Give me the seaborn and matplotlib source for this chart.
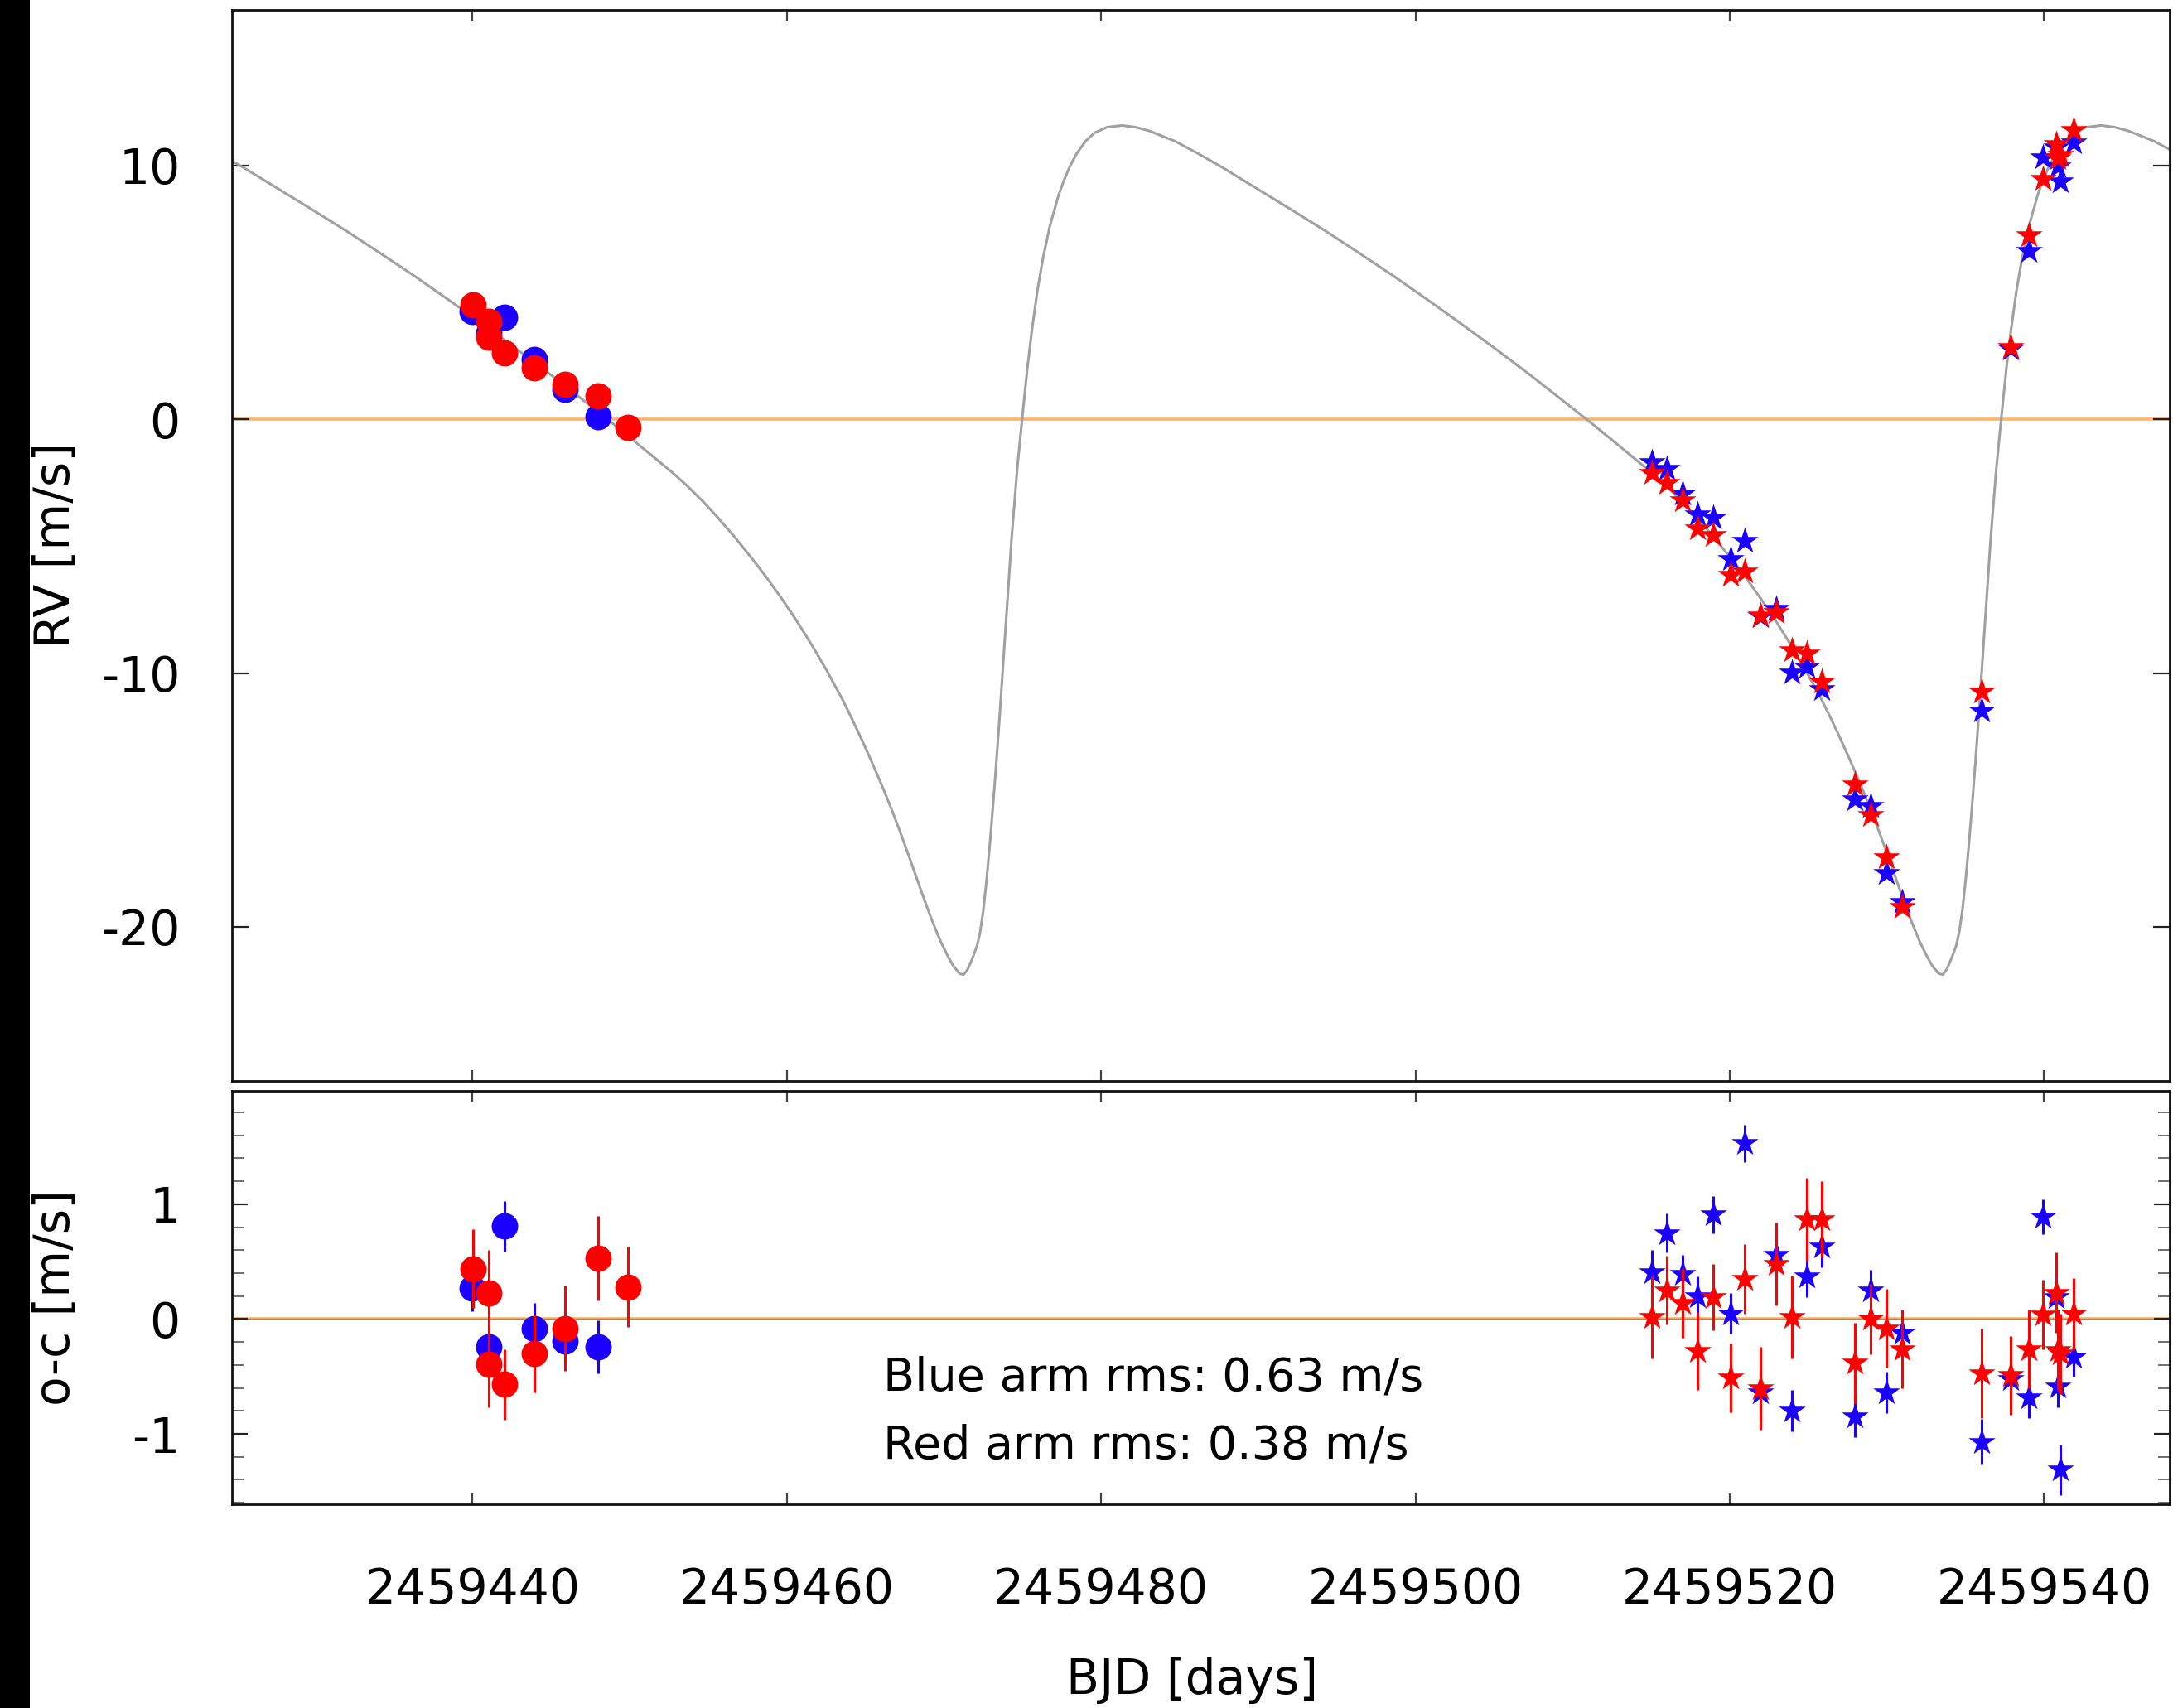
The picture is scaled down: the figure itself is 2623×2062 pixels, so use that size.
import matplotlib
matplotlib.use("Agg")
import matplotlib.pyplot as plt
from matplotlib.patches import Rectangle
from matplotlib.ticker import FixedLocator, MultipleLocator
import numpy as np
import pandas as pd
import seaborn as sns

plt.rcParams["font.family"] = ["DejaVu Sans"]
plt.rcParams["axes.unicode_minus"] = False

BJD0 = 2459400.0

# Fitted Keplerian model, sampled along the time axis (days after BJD0, m/s)
model_t = [23.9, 25.4, 27.56, 29.7, 31.93, 34.1, 36.3, 38.5, 40.67, 42.9,
           45.04, 47.0, 48.98, 50.5, 52.04, 52.75, 53.71, 54.69, 55.64, 56.66,
           57.77, 58.64, 59.63, 60.64, 61.67, 62.59, 63.56, 64.1, 64.7, 65.2,
           65.68, 66.18, 66.68, 67.17, 67.67, 68.17, 68.67, 69.0, 69.3, 69.8,
           70.28, 70.6, 70.99, 71.25, 71.5, 71.8, 72.1, 72.3, 72.5, 72.7,
           72.9, 73.1, 73.3, 73.5, 73.7, 74.0, 74.3, 74.65, 75.0, 75.3,
           75.59, 75.95, 76.3, 76.73, 77.3, 77.63, 78.0, 78.43, 79.0, 79.58,
           80.37, 81.34, 82.2, 83.04, 84.7, 86.2,
           87.7, 89.86, 92.0, 94.23, 96.4, 98.6, 100.8, 102.97, 105.2, 107.34,
           109.3, 111.28, 112.8, 114.34, 115.05, 116.01, 116.99, 117.94, 118.96,
           120.07, 120.94, 121.93, 122.94, 123.97, 124.89, 125.86, 126.4, 127.0,
           127.5, 127.98, 128.48, 128.98, 129.47, 129.97, 130.47, 130.97, 131.3,
           131.6, 132.1, 132.58, 132.9, 133.29, 133.55, 133.8, 134.1, 134.4,
           134.6, 134.8, 135.0, 135.2, 135.4, 135.6, 135.8, 136.0, 136.3, 136.6,
           136.95, 137.3, 137.6, 137.89, 138.25, 138.6, 139.03, 139.6, 139.93,
           140.3, 140.73, 141.3, 141.88, 142.67, 143.64, 144.5, 145.34, 147.0,
           148.5]
model_rv = [10.45, 9.92, 9.10, 8.29, 7.43, 6.55, 5.64, 4.69, 3.73, 2.72,
            1.72, 0.77, -0.20, -0.97, -1.76, -2.12, -2.66, -3.26, -3.90, -4.63,
            -5.48, -6.18, -7.03, -7.96, -8.98, -9.96, -11.07, -11.75, -12.54, -13.22,
            -13.90, -14.63, -15.40, -16.20, -17.05, -17.93, -18.80, -19.36, -19.85, -20.60,
            -21.20, -21.55, -21.84, -21.88, -21.68, -21.25, -20.75, -20.20, -19.35, -18.20,
            -16.85, -15.35, -13.75, -12.05, -10.20, -7.45, -4.70, -2.00, 0.20, 2.00,
            3.50, 5.10, 6.35, 7.60, 8.85, 9.40, 9.95, 10.45, 10.95, 11.28,
            11.50, 11.57, 11.50, 11.36, 10.95, 10.45,
            9.92, 9.10, 8.29, 7.43, 6.55, 5.64, 4.69, 3.73, 2.72, 1.72,
            0.77, -0.20, -0.97, -1.76, -2.12, -2.66, -3.26, -3.90, -4.63,
            -5.48, -6.18, -7.03, -7.96, -8.98, -9.96, -11.07, -11.75, -12.54,
            -13.22, -13.90, -14.63, -15.40, -16.20, -17.05, -17.93, -18.80, -19.36,
            -19.85, -20.60, -21.20, -21.55, -21.84, -21.88, -21.68, -21.25, -20.75,
            -20.20, -19.35, -18.20, -16.85, -15.35, -13.75, -12.05, -10.20, -7.45, -4.70,
            -2.00, 0.20, 2.00, 3.50, 5.10, 6.35, 7.60, 8.85, 9.40,
            9.95, 10.45, 10.95, 11.28, 11.50, 11.57, 11.50, 11.36, 10.95,
            10.45]

# First season (circles)
s1_t_blue = [39.98, 41.04, 42.05, 43.91, 45.87, 48.00]
s1_rv_blue = [4.25, 3.40, 4.03, 2.34, 1.16, 0.11]
s1_res_blue = [0.27, -0.24, 0.81, -0.08, -0.19, -0.24]
s1_err_blue = [0.20, 0.20, 0.22, 0.22, 0.25, 0.23]

s1_t_red = [40.04, 41.04, 41.04, 42.05, 43.95, 45.89, 48.00, 49.90]
s1_rv_red = [4.52, 3.85, 3.24, 2.61, 2.04, 1.36, 0.93, -0.33]
s1_res_red = [0.44, 0.23, -0.39, -0.57, -0.30, -0.08, 0.53, 0.28]
s1_err_red = [0.34, 0.37, 0.38, 0.31, 0.34, 0.37, 0.37, 0.35]

# Second season (stars)
s2_t = [115.05, 116.01, 116.99, 117.94, 118.96, 120.07, 120.93, 121.93, 122.94,
        123.97, 124.89, 125.86, 127.98, 128.98, 129.97, 130.97, 136.00, 137.89,
        139.03, 139.93, 140.78, 140.85, 141.03, 141.88]
s2_rv_blue = [-1.71, -1.96, -2.94, -3.76, -3.87, -5.50, -4.79, -7.78, -7.46,
              -9.97, -9.75, -10.62, -14.98, -15.25, -17.87, -19.01, -11.49, 2.78,
              6.64, 10.32, 10.70, 9.95, 9.37, 10.89]
s2_res_blue = [0.41, 0.75, 0.39, 0.20, 0.91, 0.05, 1.53, -0.64, 0.56,
               -0.80, 0.37, 0.63, -0.85, 0.25, -0.64, -0.12, -1.07, -0.52,
               -0.68, 0.89, 0.19, -0.59, -1.31, -0.33]
s2_err_blue = [0.19, 0.17, 0.17, 0.17, 0.16, 0.18, 0.16, 0.17, 0.18,
               0.18, 0.18, 0.18, 0.18, 0.18, 0.18, 0.18, 0.20, 0.18,
               0.18, 0.15, 0.18, 0.18, 0.22, 0.17]
s2_rv_red = [-2.12, -2.51, -3.21, -4.30, -4.58, -6.13, -5.99, -7.73, -7.59,
             -9.10, -9.23, -10.35, -14.38, -15.58, -17.26, -19.23, -10.73, 2.83,
             7.24, 9.48, 10.84, 10.29, 10.40, 11.38]
s2_res_red = [0.02, 0.25, 0.14, -0.28, 0.19, -0.51, 0.35, -0.60, 0.48,
              0.02, 0.87, 0.87, -0.38, 0.00, -0.08, -0.26, -0.47, -0.49,
              -0.26, 0.04, 0.23, -0.27, -0.30, 0.05]
s2_err_red = [0.36, 0.30, 0.30, 0.34, 0.29, 0.30, 0.30, 0.36, 0.36,
              0.36, 0.36, 0.33, 0.35, 0.31, 0.34, 0.34, 0.39, 0.34,
              0.34, 0.30, 0.35, 0.35, 0.35, 0.31]

xtick_values = [2459440, 2459460, 2459480, 2459500, 2459520, 2459540]
xtick_labels = ["2459440", "2459460", "2459480", "2459500", "2459520", "2459540"]
rms_lines = ["Blue arm rms: 0.63 m/s", "Red arm rms: 0.38 m/s"]

BLUE = "#1c00ff"
RED = "#ff0000"
ORANGE = "#ffb366"
GREY = "#a0a0a0"


def bjd(offsets):
    return [BJD0 + v for v in offsets]


fig = plt.figure(figsize=(26.23 / 2, 20.62 / 2), dpi=200)
W, H = 2623.0, 2062.0
ax_rv = fig.add_axes([280 / W, 1 - 1305 / H, 2339 / W, (1305 - 11.7) / H])
ax_oc = fig.add_axes([280 / W, 1 - 1815.6 / H, 2339 / W, (1815.6 - 1316.7) / H])

xlim = (2459424.69, 2459547.99)
FS = 21

# ---- RV panel ----
ax_rv.axhline(0, color=ORANGE, lw=1.3, zorder=1)
sns.lineplot(x=bjd(model_t), y=model_rv, ax=ax_rv, color=GREY, lw=1.1,
             sort=False, estimator=None, zorder=2)
sns.scatterplot(x=bjd(s1_t_blue), y=s1_rv_blue, ax=ax_rv, marker="o", s=132,
                color=BLUE, linewidth=0, zorder=3)
sns.scatterplot(x=bjd(s2_t), y=s2_rv_blue, ax=ax_rv, marker="*", s=150,
                color=BLUE, linewidth=0, zorder=3)
sns.scatterplot(x=bjd(s1_t_red), y=s1_rv_red, ax=ax_rv, marker="o", s=132,
                color=RED, linewidth=0, zorder=4)
sns.scatterplot(x=bjd(s2_t), y=s2_rv_red, ax=ax_rv, marker="*", s=150,
                color=RED, linewidth=0, zorder=4)
ax_rv.set_xlim(*xlim)
ax_rv.set_ylim(-26.07, 16.13)
ax_rv.yaxis.set_major_locator(FixedLocator([-20, -10, 0, 10]))
ax_rv.xaxis.set_major_locator(FixedLocator(xtick_values))
ax_rv.tick_params(axis="x", direction="in", top=True, bottom=True,
                  labelbottom=False, length=4.7, width=0.8, color="#444444")
ax_rv.tick_params(axis="y", direction="in", left=True, right=True,
                  length=7.2, width=0.8, color="#222222", labelsize=FS, pad=22.5)
ax_rv.set_ylabel("RV [m/s]", fontsize=FS)
ax_rv.yaxis.set_label_coords(-0.0787, 0.5)
ax_rv.set_xlabel("")

# ---- residual panel ----
ax_oc.axhline(0, color=ORANGE, lw=1.3, zorder=1)
ax_oc.axhline(0, color="#806040", lw=0.5, alpha=0.6, zorder=1.5)
ax_oc.errorbar(bjd(s1_t_blue), s1_res_blue, yerr=s1_err_blue, fmt="none",
               ecolor=BLUE, elinewidth=1.1, capsize=0, zorder=3)
ax_oc.errorbar(bjd(s2_t), s2_res_blue, yerr=s2_err_blue, fmt="none",
               ecolor=BLUE, elinewidth=1.1, capsize=0, zorder=3)
sns.scatterplot(x=bjd(s1_t_blue), y=s1_res_blue, ax=ax_oc, marker="o", s=132,
                color=BLUE, linewidth=0, zorder=4)
sns.scatterplot(x=bjd(s2_t), y=s2_res_blue, ax=ax_oc, marker="*", s=150,
                color=BLUE, linewidth=0, zorder=4)
ax_oc.errorbar(bjd(s1_t_red), s1_res_red, yerr=s1_err_red, fmt="none",
               ecolor=RED, elinewidth=1.1, capsize=0, zorder=5)
ax_oc.errorbar(bjd(s2_t), s2_res_red, yerr=s2_err_red, fmt="none",
               ecolor=RED, elinewidth=1.1, capsize=0, zorder=5)
sns.scatterplot(x=bjd(s1_t_red), y=s1_res_red, ax=ax_oc, marker="o", s=132,
                color=RED, linewidth=0, zorder=6)
sns.scatterplot(x=bjd(s2_t), y=s2_res_red, ax=ax_oc, marker="*", s=150,
                color=RED, linewidth=0, zorder=6)
ax_oc.set_xlim(*xlim)
ax_oc.set_ylim(-1.61, 1.99)
ax_oc.yaxis.set_major_locator(FixedLocator([-1, 0, 1]))
ax_oc.yaxis.set_minor_locator(MultipleLocator(0.2))
ax_oc.xaxis.set_major_locator(FixedLocator(xtick_values))
ax_oc.set_xticklabels(xtick_labels)
ax_oc.tick_params(axis="x", direction="in", top=True, bottom=True,
                  length=4.7, width=0.8, color="#444444", labelsize=FS, pad=27)
ax_oc.tick_params(axis="y", which="major", direction="in", left=True, right=True,
                  length=7.0, width=0.8, color="#222222", labelsize=FS, pad=22.5)
ax_oc.tick_params(axis="y", which="minor", direction="in", left=True, right=True,
                  length=5.0, width=0.6, color="#555555")
ax_oc.set_ylabel("o-c [m/s]", fontsize=FS)
ax_oc.yaxis.set_label_coords(-0.0787, 0.5)
ax_oc.set_xlabel("BJD [days]", fontsize=FS)
ax_oc.xaxis.set_label_coords(0.4955, -0.3696)
ax_oc.text(0.336, 0.2752, rms_lines[0], transform=ax_oc.transAxes,
           fontsize=20, ha="left", va="baseline")
ax_oc.text(0.336, 0.1114, rms_lines[1], transform=ax_oc.transAxes,
           fontsize=20, ha="left", va="baseline")

for ax in (ax_rv, ax_oc):
    for sp in ax.spines.values():
        sp.set_linewidth(1.0)
        sp.set_color("#111111")
    ax.set_facecolor("white")

# dark band along the left edge of the canvas
fig.add_artist(Rectangle((0, 0), 36 / W, 1, transform=fig.transFigure,
                         facecolor="black", edgecolor="none", zorder=10))

fig.savefig("out.png", dpi=200, facecolor="white")
